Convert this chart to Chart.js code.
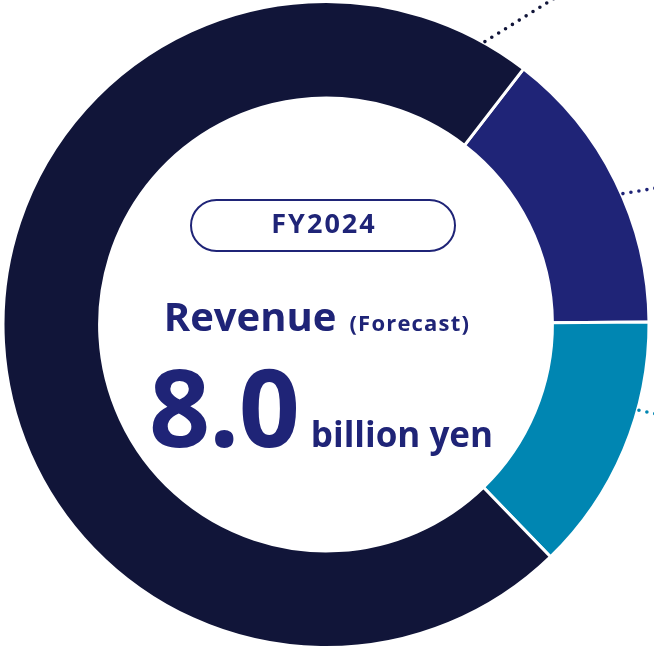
<!DOCTYPE html>
<html>
<head>
<meta charset="utf-8">
<script src="https://cdn.jsdelivr.net/npm/chart.js@4/dist/chart.umd.min.js"></script>
<style>
  html,body{margin:0;padding:0;background:#fff;}
  #wrap{position:relative;width:654px;height:649px;overflow:hidden;}
  #chartBox{position:absolute;left:0;top:0;width:654px;height:649px;}
  .t{position:absolute;font-family:"Open Sans",sans-serif;font-weight:700;color:#1f2477;white-space:nowrap;line-height:1;}
  #pill{position:absolute;left:190px;top:199px;width:262px;height:49px;border:2.6px solid #1f2477;border-radius:28px;}
  .row{position:absolute;left:0;width:654px;display:flex;justify-content:center;align-items:baseline;}
</style>
</head>
<body>
<div id="wrap">
  <div id="chartBox"><canvas id="c"></canvas></div>
  <div id="pill"></div>
  <div class="t row" id="fy" style="top:209px;left:-3px;font-size:27px;letter-spacing:2px;">FY2024</div>
  <div class="t row" id="rev" style="top:296px;left:-10px;"><span style="font-size:40px;">Revenue</span><span style="font-size:22px;margin-left:13px;letter-spacing:1.2px;">(Forecast)</span></div>
  <div class="t row" id="val" style="top:352px;left:-6px;"><span style="font-size:107px;letter-spacing:-1px;">8.0</span><span style="font-size:35px;margin-left:12px;">billion yen</span></div>
</div>
<script>
// ---- data ----
const categories = ["Segment A", "Segment B", "Segment C"];
const shares = [14.4, 12.9, 72.7];
const colors = ["#1f2477", "#0086b2", "#111539"];
// leader-line styling (fraction along arc, direction in degrees)
const leaderFrac = [0.55, 0.34, 0.968];
const leaderDir = [-9.5, 12, -32];

const leaderPlugin = {
  id: 'leaders',
  afterDatasetsDraw(chart) {
    const ctx = chart.ctx;
    const meta = chart.getDatasetMeta(0);
    meta.data.forEach((arc, i) => {
      const p = arc.getProps(['x','y','startAngle','endAngle','outerRadius'], true);
      const a = p.startAngle + leaderFrac[i] * (p.endAngle - p.startAngle);
      const sx = p.x + (p.outerRadius + 1.5) * Math.cos(a);
      const sy = p.y + (p.outerRadius + 1.5) * Math.sin(a);
      const d = leaderDir[i] * Math.PI / 180;
      ctx.save();
      ctx.strokeStyle = colors[i];
      ctx.lineWidth = 3.6;
      ctx.lineCap = 'round';
      ctx.setLineDash([0, 8.1]);
      ctx.beginPath();
      ctx.moveTo(sx, sy);
      ctx.lineTo(sx + 400 * Math.cos(d), sy + 400 * Math.sin(d));
      ctx.stroke();
      ctx.restore();
    });
  }
};

new Chart(document.getElementById('c'), {
  type: 'doughnut',
  data: {
    labels: categories,
    datasets: [{
      data: shares,
      backgroundColor: colors,
      borderColor: '#ffffff',
      borderWidth: 3,
      hoverBorderWidth: 3
    }]
  },
  options: {
    responsive: true,
    maintainAspectRatio: false,
    animation: false,
    rotation: 37.7,
    cutout: '70.1%',
    layout: { padding: { left: 0, right: 2, top: 0, bottom: 0 } },
    plugins: { legend: { display: false }, tooltip: { enabled: false } },
    events: []
  },
  plugins: [leaderPlugin]
});
</script>
</body>
</html>
